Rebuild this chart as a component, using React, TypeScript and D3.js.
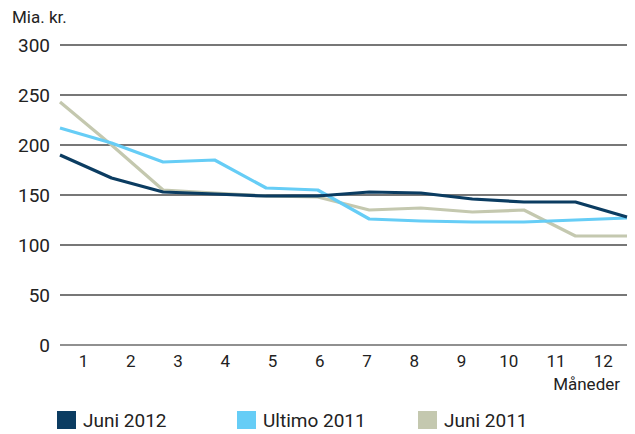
import { useRef, useEffect } from "react";
import * as d3 from "d3";

const months = ["1", "2", "3", "4", "5", "6", "7", "8", "9", "10", "11", "12"];
const yTicks = [0, 50, 100, 150, 200, 250, 300];

const juni2012 = [190, 167, 153, 151, 149, 149, 153, 152, 146, 143, 143, 128];
const ultimo2011 = [217, 202, 183, 185, 157, 155, 126, 124, 123, 123, 125, 127];
const juni2011 = [243, 200, 155, 152, 149, 148, 135, 137, 133, 135, 109, 109];

const seriesNames = ["Juni 2012", "Ultimo 2011", "Juni 2011"];
const seriesColors = ["#0b3c61", "#66cdf6", "#c4c8af"];

const App = () => {
  const svgRef = useRef<SVGSVGElement>(null);

  useEffect(() => {
    const svg = d3.select(svgRef.current);
    svg.selectAll("*").remove();

    const left = 60;
    const right = 627;
    const font = "Roboto, 'DejaVu Sans', sans-serif";

    const y = d3.scaleLinear().domain([0, 300]).range([345, 45]);
    const xBand = d3.scaleBand().domain(months).range([left, right]);
    const xPoint = d3.scalePoint().domain(months).range([left, right]);

    // gridlines + y labels
    const grid = svg.append("g");
    yTicks.forEach((t) => {
      grid
        .append("line")
        .attr("x1", left)
        .attr("x2", right)
        .attr("y1", y(t))
        .attr("y2", y(t))
        .attr("stroke", t === 0 ? "#6b6b6b" : "#4a4a4a")
        .attr("stroke-width", 1.4);
      grid
        .append("text")
        .attr("x", 50)
        .attr("y", y(t) + 7)
        .attr("text-anchor", "end")
        .attr("font-family", font)
        .attr("font-size", 19)
        .attr("fill", "#222")
        .text(t);
    });

    svg
      .append("text")
      .attr("x", 12)
      .attr("y", 23)
      .attr("font-family", font)
      .attr("font-size", 17)
      .attr("fill", "#222")
      .text("Mia. kr.");

    // x labels
    months.forEach((m) => {
      svg
        .append("text")
        .attr("x", xBand(m)! + xBand.bandwidth() / 2)
        .attr("y", 367)
        .attr("text-anchor", "middle")
        .attr("font-family", font)
        .attr("font-size", 17)
        .attr("fill", "#222")
        .text(m);
    });

    svg
      .append("text")
      .attr("x", 620)
      .attr("y", 390)
      .attr("text-anchor", "end")
      .attr("font-family", font)
      .attr("font-size", 17)
      .attr("fill", "#222")
      .text("Måneder");

    // lines
    const line = d3
      .line<number>()
      .x((_, i) => xPoint(months[i])!)
      .y((d) => y(d));

    const drawOrder = [2, 1, 0];
    const allSeries = [juni2012, ultimo2011, juni2011];
    drawOrder.forEach((idx) => {
      svg
        .append("path")
        .datum(allSeries[idx])
        .attr("d", line)
        .attr("fill", "none")
        .attr("stroke", seriesColors[idx])
        .attr("stroke-width", 3.2)
        .attr("stroke-linejoin", "round");
    });

    // legend
    const legendX = [57, 237, 418];
    seriesNames.forEach((name, i) => {
      const g = svg.append("g").attr("transform", `translate(${legendX[i]},411)`);
      g.append("rect").attr("width", 19).attr("height", 18).attr("fill", seriesColors[i]);
      g.append("text")
        .attr("x", 26)
        .attr("y", 16)
        .attr("font-family", font)
        .attr("font-size", 19)
        .attr("fill", "#222")
        .text(name);
    });
  }, []);

  return (
    <svg
      ref={svgRef}
      width={635}
      height={434}
      style={{ position: "absolute", top: 0, left: 0, display: "block" }}
    />
  );
};

export default App;
